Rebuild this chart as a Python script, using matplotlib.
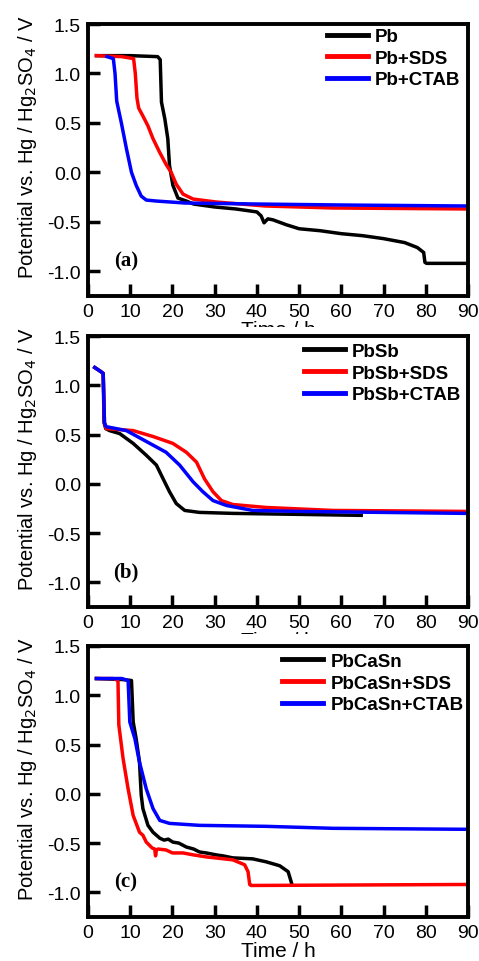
import matplotlib
matplotlib.use("Agg")
import matplotlib.pyplot as plt
from matplotlib.transforms import Bbox, TransformedBbox

plt.rcParams['font.family'] = ['Liberation Sans', 'DejaVu Sans']

# ---------------- data ----------------
# Panel (a)
a_pb_t = [2, 10, 16.5, 17.1, 17.4, 18.2, 18.9, 19.3, 20.1, 21.3, 23.3, 25, 30, 35, 40, 41, 41.7, 42.6, 43.8, 47, 50, 55, 60, 65, 70, 75, 78, 79.5, 79.8, 80.2, 89.5]
a_pb_v = [1.18, 1.18, 1.17, 1.14, 0.71, 0.54, 0.34, 0.07, -0.13, -0.26, -0.29, -0.32, -0.35, -0.37, -0.40, -0.44, -0.51, -0.47, -0.48, -0.53, -0.57, -0.59, -0.62, -0.64, -0.67, -0.71, -0.76, -0.81, -0.91, -0.92, -0.92]
a_sds_t = [2, 8, 10.8, 11.2, 11.6, 12, 13, 14.2, 15.4, 17, 18.5, 19.7, 20.9, 22.5, 24.9, 30.4, 42, 58, 89.5]
a_sds_v = [1.18, 1.17, 1.15, 1.0, 0.75, 0.65, 0.57, 0.47, 0.34, 0.2, 0.08, 0.0, -0.12, -0.22, -0.27, -0.30, -0.34, -0.36, -0.37]
a_ctab_t = [4.5, 6.0, 6.4, 6.8, 7.9, 9.1, 10.3, 11.4, 12.6, 13.8, 16.2, 23, 40, 60, 89.5]
a_ctab_v = [1.17, 1.15, 1.0, 0.72, 0.5, 0.24, 0.0, -0.13, -0.24, -0.28, -0.29, -0.31, -0.32, -0.33, -0.34]

# Panel (b)
b_pb_t = [1.6, 3.0, 3.6, 3.8, 4.2, 5.1, 7.5, 10.7, 13.8, 16.2, 17.8, 19.3, 20.9, 22.9, 26.4, 34.3, 50, 64.7]
b_pb_v = [1.18, 1.14, 1.12, 0.62, 0.56, 0.54, 0.51, 0.41, 0.29, 0.19, 0.05, -0.08, -0.2, -0.27, -0.29, -0.30, -0.31, -0.32]
b_sds_t = [1.6, 3.0, 3.6, 3.9, 4.3, 10.7, 15.4, 20.1, 23.3, 25.7, 27.6, 29.6, 31.6, 34.3, 42.2, 58, 89.5]
b_sds_v = [1.18, 1.14, 1.12, 0.62, 0.56, 0.54, 0.48, 0.41, 0.32, 0.22, 0.05, -0.08, -0.17, -0.21, -0.24, -0.27, -0.28]
b_ctab_t = [1.6, 3.0, 3.6, 3.9, 4.3, 9.1, 13.8, 18.5, 21.7, 24.9, 27.2, 29.6, 32.8, 39, 50, 89.5]
b_ctab_v = [1.18, 1.14, 1.12, 0.62, 0.58, 0.54, 0.43, 0.32, 0.19, 0.02, -0.08, -0.17, -0.22, -0.27, -0.28, -0.30]

# Panel (c)
c_pb_t = [2, 8, 10.3, 10.7, 11.4, 12.2, 12.6, 13, 14.2, 15.4, 17, 18, 19, 20.1, 21.5, 23.3, 25, 26.4, 28, 30.4, 32, 34.3, 39, 42.2, 45.4, 47.4, 48.1, 48.3]
c_pb_v = [1.17, 1.16, 1.15, 0.73, 0.56, 0.32, -0.01, -0.15, -0.32, -0.39, -0.45, -0.47, -0.46, -0.49, -0.50, -0.54, -0.56, -0.59, -0.60, -0.62, -0.63, -0.65, -0.66, -0.69, -0.73, -0.79, -0.89, -0.92]
c_sds_t = [2, 6, 7.1, 7.3, 8.3, 9.5, 10.7, 12.2, 13.0, 13.8, 14.5, 15.2, 15.8, 16.0, 16.2, 16.6, 18.5, 20, 22.5, 25, 28, 34.3, 37.1, 37.9, 38.3, 38.6, 89.5]
c_sds_v = [1.17, 1.17, 1.15, 0.70, 0.36, 0.05, -0.22, -0.39, -0.42, -0.49, -0.52, -0.55, -0.56, -0.63, -0.57, -0.56, -0.57, -0.60, -0.60, -0.62, -0.64, -0.67, -0.72, -0.79, -0.92, -0.93, -0.92]
c_ctab_t = [2, 8, 9.5, 9.9, 11.1, 12.2, 13.8, 15.4, 17, 19.3, 26.4, 42.2, 58, 89.6]
c_ctab_v = [1.17, 1.17, 1.15, 0.73, 0.56, 0.32, 0.05, -0.15, -0.27, -0.30, -0.32, -0.33, -0.35, -0.36]

labels_a = ["Pb", "Pb+SDS", "Pb+CTAB"]
labels_b = ["PbSb", "PbSb+SDS", "PbSb+CTAB"]
labels_c = ["PbCaSn", "PbCaSn+SDS", "PbCaSn+CTAB"]
panel_tags = ["(a)", "(b)", "(c)"]
x_ticks = [0, 10, 20, 30, 40, 50, 60, 70, 80, 90]
y_ticks = [-1.0, -0.5, 0.0, 0.5, 1.0, 1.5]
colors = ["black", "red", "blue"]

panels = [
    ([(a_pb_t, a_pb_v), (a_sds_t, a_sds_v), (a_ctab_t, a_ctab_v)], labels_a),
    ([(b_pb_t, b_pb_v), (b_sds_t, b_sds_v), (b_ctab_t, b_ctab_v)], labels_b),
    ([(c_pb_t, c_pb_v), (c_sds_t, c_sds_v), (c_ctab_t, c_ctab_v)], labels_c),
]

W, H = 479, 962
fig = plt.figure(figsize=(W / 100, H / 100), dpi=100)

# axes pixel boxes: left, top, right, bottom
boxes = [(88, 25, 468, 297), (88, 337, 468, 608), (88, 647, 468, 918)]
leg_anchor = [(0.629, 0.985), (0.568, 0.975), (0.511, 0.975)]
clip_tops = [328, 635, None]

for i, ((series, labels), (l, t, r, b)) in enumerate(zip(panels, boxes)):
    ax = fig.add_axes([l / W, (H - b) / H, (r - l) / W, (b - t) / H])
    for (tt, vv), c, lab in zip(series, colors, labels):
        ax.plot(tt, vv, color=c, lw=2.5, label=lab, solid_joinstyle='round')
    ax.set_xlim(0, 90)
    ax.set_ylim(-1.25, 1.5)
    ax.set_xticks(x_ticks)
    ax.set_yticks(y_ticks)
    ax.set_yticklabels([f"{v:.1f}" for v in y_ticks])
    ax.tick_params(direction='in', length=8.5, width=2.5, labelsize=14, pad=5,
                   top=False, right=False)
    for s in ax.spines.values():
        s.set_linewidth(2.8)
    ax.set_ylabel("Potential vs. Hg / Hg$_2$SO$_4$ / V", fontsize=14.5)
    ax.yaxis.set_label_coords(-0.128, 0.55)
    xl = ax.set_xlabel("Time / h", fontsize=15, labelpad=0)
    if clip_tops[i] is not None:
        y0 = (H - clip_tops[i]) / H
        xl.set_clip_box(TransformedBbox(Bbox([[0, y0], [1, 1]]), fig.transFigure))
        xl.set_clip_on(True)
    leg = ax.legend(loc='upper left', bbox_to_anchor=leg_anchor[i], frameon=False,
                    prop={'weight': 'bold', 'size': 13.5},
                    handlelength=2.2, handletextpad=0.37, labelspacing=0.24,
                    borderpad=0, borderaxespad=0)
    for h in leg.get_lines():
        h.set_linewidth(3.5)
    ax.text(0.1, 0.13, panel_tags[i], transform=ax.transAxes, ha='center', va='center',
            fontsize=15, fontweight='bold', family=['Liberation Serif', 'DejaVu Serif'])

fig.savefig("out.png", dpi=100)
